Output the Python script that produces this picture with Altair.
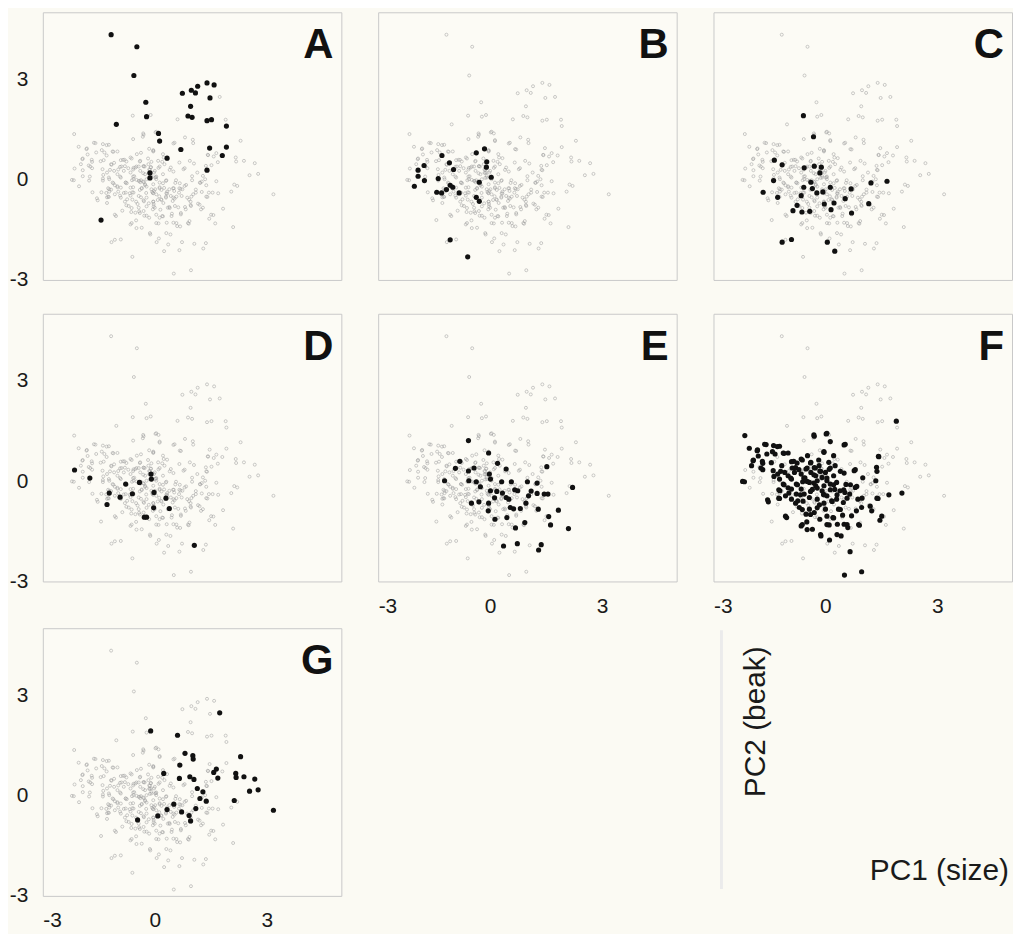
import altair as alt
import pandas as pd

# ---- data: PC1 (size), PC2 (beak) scores of each group ----
A_points = [(-1.17, 4.33), (-0.48, 3.97), (-0.56, 3.11), (-0.24, 2.31), (-0.22, 1.88), (-1.03, 1.65),
            (0.10, 1.38), (0.13, 1.15), (0.33, 0.64), (0.70, 0.90), (0.74, 2.58), (0.98, 2.67),
            (1.09, 2.59), (1.15, 2.79), (1.40, 2.89), (1.59, 2.83), (1.48, 2.44), (0.96, 2.19),
            (0.89, 1.90), (1.00, 1.86), (1.40, 1.76), (1.52, 1.79), (1.92, 1.60), (1.92, 0.97),
            (1.47, 0.94), (1.81, 0.72), (1.40, 0.28), (-1.44, -1.21), (-0.13, 0.20), (-0.13, 0.05)]

B_points = [(-1.29, 0.72), (-1.09, 0.50), (-0.98, 0.30), (-1.77, 0.42), (-1.93, 0.28), (-1.93, 0.10),
            (-1.76, -0.03), (-2.03, -0.20), (-1.39, 0.03), (-1.17, -0.30), (-1.43, -0.38), (-1.30, -0.40),
            (-1.07, -0.17), (-1.00, -0.23), (-0.83, -0.40), (-0.37, 0.80), (-0.15, 0.92), (-0.09, 0.53),
            (-0.10, 0.37), (0.03, 0.07), (-0.29, -0.08), (-0.37, -0.53), (-0.29, -0.65), (-1.07, -1.80),
            (-0.60, -2.31)]

C_points = [(-0.59, 1.91), (-0.32, 1.28), (-1.37, 0.58), (-1.16, 0.44), (-1.39, -0.03), (-1.67, -0.38),
            (-1.28, -0.53), (-0.57, 0.35), (-0.30, 0.40), (-0.11, 0.37), (-0.15, 0.20), (-0.39, -0.08),
            (-0.58, -0.23), (-0.35, -0.27), (-0.23, -0.40), (-0.07, -0.37), (0.13, -0.23), (0.69, -0.28),
            (0.53, -0.57), (0.23, -0.70), (-0.03, -0.73), (0.15, -0.90), (-0.42, -0.95), (-0.65, -0.48),
            (-0.76, -0.77), (-0.87, -0.93), (-0.63, -0.97), (0.70, -1.00), (1.16, -0.72), (1.22, -0.10),
            (1.65, -0.05), (-1.16, -1.87), (-0.91, -1.79), (0.05, -1.87), (0.25, -2.14)]

D_points = [(-2.15, 0.33), (-1.74, 0.09), (-1.22, -0.36), (-1.28, -0.70), (-0.93, -0.48), (-0.60, -0.38),
            (-0.78, -0.09), (-0.41, -0.04), (-0.10, 0.21), (-0.09, 0.06), (-0.02, -0.34), (-0.03, -0.80),
            (-0.28, -1.08), (-0.22, -1.08), (0.30, -0.51), (0.39, -0.82), (1.06, -1.92)]

E_points = [(-0.58, 1.21), (-0.04, 0.84), (-0.81, 0.59), (-0.93, 0.38), (-1.22, 0.01), (-0.58, 0.30),
            (-0.43, 0.39), (-0.57, 0.01), (-0.37, -0.02), (-0.26, -0.17), (-0.02, 0.21), (0.01, 0.06),
            (0.20, 0.53), (0.43, 0.36), (0.31, -0.02), (0.18, -0.31), (0.01, -0.29), (0.57, -0.02),
            (0.66, -0.26), (0.74, -0.29), (0.43, -0.49), (0.50, -0.54), (0.54, -0.79), (1.00, -0.02),
            (1.26, -0.06), (1.03, -0.44), (0.96, -0.66), (0.81, -0.82), (1.26, -0.37), (1.45, -0.39),
            (1.55, -0.39), (1.52, 0.43), (2.21, -0.19), (1.83, -0.87), (1.57, -1.06), (1.62, -1.31),
            (2.10, -1.42), (1.29, -0.84), (-0.50, -0.66), (-0.30, -0.62), (-0.04, -0.66), (-0.05, -0.89),
            (0.13, -1.14), (0.45, -1.09), (0.68, -1.40), (0.93, -1.24), (0.36, -1.94), (0.73, -1.87),
            (1.37, -1.90), (1.30, -2.06), (0.33, -0.36), (0.63, -0.83), (0.12, -0.50), (1.10, -0.30)]

F_points = [(1.90, 1.79), (-2.16, 1.36), (-0.30, 1.34), (0.02, 1.41), (0.13, 1.18), (0.50, 1.08),
            (1.43, 0.73), (1.37, 0.41), (1.35, 0.01), (1.70, -0.41), (2.05, -0.36), (1.41, -0.52),
            (1.24, -0.89), (1.46, -1.17), (0.91, -1.32), (0.97, -0.79), (0.77, 0.31), (0.80, -0.19),
            (0.50, 0.24), (0.22, 0.76), (-0.04, 0.86), (-0.48, 0.76), (-0.39, 0.56), (-2.04, 0.98),
            (-1.83, 0.91), (-1.59, 1.09), (-1.39, 1.06), (-1.23, 1.04), (-1.57, 0.81), (-1.35, 0.81),
            (-1.13, 0.84), (-1.00, 0.84), (-1.94, 0.61), (-1.68, 0.53), (-1.98, 0.46), (-1.68, 0.34),
            (-1.40, 0.31), (-1.17, 0.46), (-0.91, 0.58), (-0.76, 0.54), (-0.65, 0.66), (-2.17, -0.02),
            (-1.53, -0.62), (-1.23, -0.52), (-1.07, -0.44), (-0.91, -0.54), (-1.23, 0.06), (-1.13, -0.09),
            (-1.00, 0.16), (-0.83, 0.26), (-0.65, 0.21), (-0.52, 0.36), (-0.39, 0.26), (-0.26, 0.16),
            (-0.22, 0.01), (-0.09, 0.11), (0.00, 0.26), (0.04, 0.01), (0.13, -0.09), (0.22, 0.16),
            (0.30, -0.04), (0.39, -0.29), (0.52, -0.34), (0.65, -0.39), (0.87, -0.54), (-0.65, -0.24),
            (-0.57, -0.39), (-0.43, -0.49), (-0.74, -0.59), (-0.70, -0.79), (-0.43, -0.84), (-0.52, -0.99),
            (-0.30, -0.94), (-0.22, -0.54), (-0.09, -0.29), (0.04, -0.44), (0.17, -0.59), (0.00, -0.84),
            (0.20, -1.09), (0.35, -0.84), (0.46, -1.02), (0.50, -1.29), (0.60, -1.39), (0.42, -1.64),
            (0.10, -1.31), (-0.12, -1.64), (-0.35, -1.44), (-0.50, -1.22), (-0.65, -1.34), (-1.04, -1.09),
            (0.11, -1.76), (0.66, -2.11), (0.51, -2.81), (0.97, -2.71), (-1.22, -0.29), (0.26, 0.46),
            (0.09, 0.56), (-0.17, 0.46), (-0.04, -0.14), (-0.26, -0.14), (-0.43, -0.04), (-0.61, -0.02),
            (-0.78, -0.09), (-0.91, 0.06), (-1.09, 0.26), (-1.28, 0.21), (-0.91, -0.24), (-0.78, -0.39),
            (0.30, -0.54), (0.48, -0.64), (0.83, -0.89), (0.70, -1.04), (-0.16, -0.71), (-0.15, -1.14),
            (0.32, -1.29), (-0.30, 0.40), (-0.55, 0.10), (-0.15, 0.30), (0.10, 0.35), (-0.80, 0.40),
            (-1.45, 0.55), (-1.80, 0.75), (-0.05, -0.40), (0.25, -0.25), (-0.35, -0.25), (-0.60, -0.60),
            (-1.00, -0.20), (0.55, -0.10), (1.00, 0.10),
            (-1.63, 1.10), (-1.82, 0.93), (-1.93, 0.63), (-1.69, 0.59), (-1.73, 0.39), (-1.42, 0.88),
            (-1.29, 1.03), (-1.11, 0.83), (-0.85, 0.59), (-0.62, 0.63), (-0.31, 1.38), (0.04, 1.43),
            (-0.04, 0.88), (-0.18, 0.63), (-0.40, 0.54), (0.13, 0.39), (0.40, 0.29), (0.53, 1.10),
            (0.80, 0.34), (1.42, 0.74), (1.38, 0.29), (-2.22, -0.01), (-1.55, -0.56), (-1.25, -0.51),
            (-1.11, -0.11), (-0.93, 0.09), (-0.75, -0.11), (-0.58, 0.09), (-0.31, 0.19), (-0.13, 0.29),
            (0.04, 0.09), (0.22, -0.11), (-0.22, -0.21), (-0.40, -0.31), (-0.67, -0.41), (-0.04, -0.41),
            (0.31, -0.41), (0.58, -0.51), (0.84, -0.16), (0.98, -0.51), (1.20, -0.75), (1.51, -1.05),
            (1.38, -0.51), (-1.07, -1.05), (-0.62, -0.85), (-0.40, -1.00), (-0.22, -0.80), (0.04, -1.05),
            (0.22, -1.10), (0.40, -0.85), (0.58, -1.30), (0.89, -1.30), (-0.62, -1.30), (-0.49, -1.45),
            (-0.13, -1.60), (0.04, -1.30), (0.31, -1.60), (-0.89, 0.39), (-1.20, 0.29), (-1.38, 0.14),
            (-0.71, 0.34), (-0.49, 0.39), (-0.27, 0.39), (-0.49, -0.01), (-0.31, -0.06), (0.13, -0.26),
            (0.49, -0.26), (0.67, -0.11), (-0.80, -0.66), (-0.04, -0.66), (0.18, -0.61), (-0.98, -0.36),
            (-1.25, -0.26)]

G_points = [(1.74, 2.47), (-0.11, 1.93), (0.61, 1.80), (0.81, 1.26), (1.02, 1.19), (1.03, 1.09),
            (2.30, 1.16), (0.24, 0.66), (0.67, 0.91), (0.66, 0.51), (0.94, 0.56), (1.05, 0.48),
            (1.65, 0.79), (1.58, 0.69), (1.69, 0.52), (2.17, 0.66), (2.18, 0.54), (2.39, 0.56),
            (2.68, 0.49), (2.54, 0.13), (2.77, 0.17), (3.18, -0.44), (2.13, -0.15), (1.14, 0.21),
            (1.29, 0.11), (1.21, -0.09), (1.38, -0.17), (1.10, -0.39), (0.72, -0.49), (0.51, -0.26),
            (0.92, -0.60), (0.96, -0.76), (0.08, -0.61), (0.33, -0.42), (-0.46, -0.73)]

groups = ["A", "B", "C", "D", "E", "F", "G"]
axis_ticks = [-3, 0, 3]
domain = [-3, 5]
x_title = "PC1 (size)"
y_title = "PC2 (beak)"

group_points = {"A": A_points, "B": B_points, "C": C_points, "D": D_points,
                "E": E_points, "F": F_points, "G": G_points}
rows = []
for g in groups:
    for px, py in group_points[g]:
        rows.append({"grp": g, "pc1": px, "pc2": py})
df = pd.DataFrame(rows)

W, H = 300, 269
FONT = "Liberation Sans"
LABEL_EXPR = "'' + datum.value"


def panel(letter, show_x, show_y):
    xs = alt.Scale(domain=domain, nice=False, zero=False)
    ys = alt.Scale(domain=domain, nice=False, zero=False)
    xa = alt.Axis(values=axis_ticks, title=None, labelPadding=14, labelFlush=True,
                  labelExpr=LABEL_EXPR) if show_x else None
    ya = alt.Axis(values=axis_ticks, title=None, labelPadding=15,
                  labelExpr=LABEL_EXPR) if show_y else None
    xenc = alt.X("pc1:Q", scale=xs, axis=xa)
    yenc = alt.Y("pc2:Q", scale=ys, axis=ya)
    base = alt.Chart(df)
    gray = base.mark_point(shape="circle", filled=False, size=9, strokeWidth=0.8,
                           color="#a0a0a0").encode(x=xenc, y=yenc)
    black = base.transform_filter(alt.datum.grp == letter).mark_circle(
        size=27, color="#111111", opacity=1).encode(x=xenc, y=yenc)
    lab = alt.Chart(pd.DataFrame({"t": [letter]})).mark_text(
        font=FONT, fontSize=42, fontWeight="bold", align="right", baseline="alphabetic",
        color="#111111").encode(text="t:N", x=alt.value(W - 8), y=alt.value(46))
    return alt.layer(gray, black, lab).properties(width=W, height=H)


A = panel("A", False, True)
B = panel("B", False, False)
C = panel("C", False, False)
D = panel("D", False, True)
E = panel("E", True, False)
F = panel("F", True, False)
G = panel("G", True, True)

LW = 2 * W + 35
t1 = alt.Chart(pd.DataFrame({"t": [y_title]})).mark_text(
    font=FONT, fontSize=30, angle=270, align="center", baseline="middle", color="#1a1a1a"
).encode(text="t:N", x=alt.value(380), y=alt.value(94))
t2 = alt.Chart(pd.DataFrame({"t": [x_title]})).mark_text(
    font=FONT, fontSize=30, align="center", baseline="middle", color="#1a1a1a"
).encode(text="t:N", x=alt.value(564), y=alt.value(244))
edge = alt.Chart(pd.DataFrame({"t": [y_title]})).mark_rule(color="#ebebeb", strokeWidth=3).encode(
    x=alt.value(345), y=alt.value(2), y2=alt.value(262))
L = alt.layer(edge, t1, t2).properties(
    width=LW, height=H,
    view=alt.ViewBackground(stroke="transparent", fill="transparent"))

row1 = alt.hconcat(A, B, C, spacing=35)
row2 = alt.hconcat(D, E, F, spacing=35)
row3 = alt.hconcat(G, L, spacing=35)

chart = alt.vconcat(
    alt.vconcat(row1, row2, spacing=22),
    row3, spacing=10
).properties(
    padding={"left": 0, "top": 1, "right": 0, "bottom": 0},
    background="#fbfaf3",
).configure_view(
    stroke="#c9c9c9", strokeWidth=1, fill="#fcfbf5"
).configure_axis(
    domain=False, ticks=False, grid=False, labelFont=FONT, labelFontSize=21,
    labelColor="#1a1a1a"
)

chart.save("out.html", embed_options={"renderer": "svg", "actions": False})
